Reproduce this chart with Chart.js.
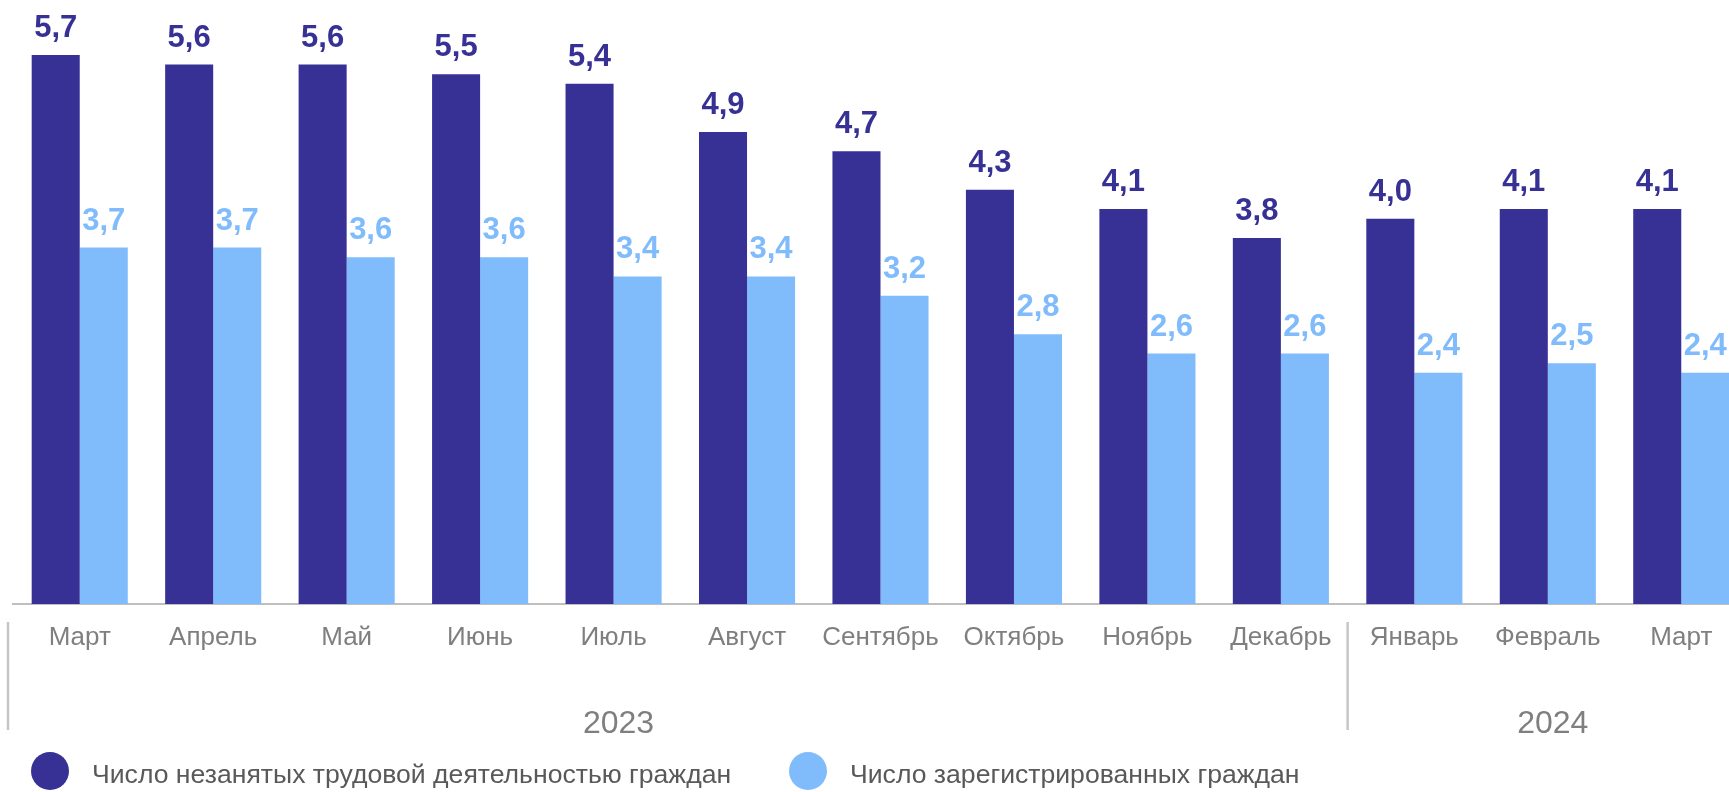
<!DOCTYPE html>
<html lang="ru">
<head>
<meta charset="utf-8">
<title>Безработица</title>
<script src="https://cdn.jsdelivr.net/npm/chart.js@4.4.1/dist/chart.umd.min.js"></script>
<style>
    html, body { margin: 0; padding: 0; background: #fff; overflow: hidden; }
    #wrap { position: relative; width: 1760px; height: 792px; }
    .leyenda { position: absolute; top: 752px; display: flex; align-items: center;
               font-family: "Liberation Sans", Arial, sans-serif; font-size: 26.6px; color: #595959; }
    .leyenda .punto { width: 38px; height: 38px; border-radius: 50%; margin-right: 23px; }
    .leyenda .txt { position: relative; top: 3px; }
</style>
</head>
<body>
<div id="wrap">
    <canvas id="graficoMeses"></canvas>
    <div class="leyenda" style="left:31px"><span class="punto" id="punto0"></span><span class="txt" id="texto0"></span></div>
    <div class="leyenda" style="left:789px"><span class="punto" id="punto1"></span><span class="txt" id="texto1"></span></div>
</div>
<script>
//Datos
    const meses = ['Март', 'Апрель', 'Май', 'Июнь', 'Июль', 'Август', 'Сентябрь', 'Октябрь', 'Ноябрь', 'Декабрь', 'Январь', 'Февраль', 'Март'];
    const nezanyatye = [5.7, 5.6, 5.6, 5.5, 5.4, 4.9, 4.7, 4.3, 4.1, 3.8, 4.0, 4.1, 4.1];
    const zaregistrirovannye = [3.7, 3.7, 3.6, 3.6, 3.4, 3.4, 3.2, 2.8, 2.6, 2.6, 2.4, 2.5, 2.4];
    const nombresSeries = ['Число незанятых трудовой деятельностью граждан', 'Число зарегистрированных граждан'];
    const colores = ['#373195', '#80bbfb'];
    const anios = ['2023', '2024'];
    const anioBajoMes = [4, 11];     // под каким месяцем подпись года
    const separadores = [0, 10];     // год начинается с этого месяца

    const fuente = '"Liberation Sans", Arial, sans-serif';
    let canvas = document.querySelector('#graficoMeses');
    canvas.width = 1760;
    canvas.height = 792;

    //Leyenda html
    nombresSeries.forEach((nombre, i) => {
        document.querySelector('#punto' + i).style.background = colores[i];
        document.querySelector('#texto' + i).textContent = nombre;
    });

    //Etiquetas encima de barras
    const etiquetasBarras = {
        id: 'etiquetasBarras',
        afterDatasetsDraw(chart) {
            const ctx = chart.ctx;
            ctx.save();
            ctx.font = 'bold 31px ' + fuente;
            ctx.textAlign = 'center';
            ctx.textBaseline = 'alphabetic';
            chart.data.datasets.forEach((ds, i) => {
                ctx.fillStyle = colores[i];
                chart.getDatasetMeta(i).data.forEach((bar, j) => {
                    ctx.fillText(ds.data[j].toFixed(1).replace('.', ','), bar.x, bar.y - 18);
                });
            });
            ctx.restore();
        }
    };

    //Separadores y años
    const ejeAnios = {
        id: 'ejeAnios',
        afterDraw(chart) {
            const ctx = chart.ctx;
            const x = chart.scales.x;
            const paso = x.getPixelForTick(1) - x.getPixelForTick(0);
            ctx.save();
            ctx.strokeStyle = '#c6c6c6';
            ctx.lineWidth = 2.5;
            separadores.forEach(idx => {
                let px = x.getPixelForTick(idx) - paso / 2;
                if (idx === 0) px -= 5;
                ctx.beginPath();
                ctx.moveTo(px, 622);
                ctx.lineTo(px, 730);
                ctx.stroke();
            });
            ctx.fillStyle = '#7f7f7f';
            ctx.font = '32px ' + fuente;
            ctx.textAlign = 'center';
            ctx.textBaseline = 'middle';
            anios.forEach((a, i) => {
                ctx.fillText(a, x.getPixelForTick(anioBajoMes[i]) + 5, 724);
            });
            ctx.restore();
        }
    };

    const data = {
        labels: meses,
        datasets: [{
            label: nombresSeries[0],
            data: nezanyatye,
            backgroundColor: colores[0],
        }, {
            label: nombresSeries[1],
            data: zaregistrirovannye,
            backgroundColor: colores[1],
        }]
    };

    const config = {
        type: 'bar',
        data: data,
        options: {
            responsive: false,
            animation: false,
            layout: { padding: { top: 26, left: 13, right: 12, bottom: 0 } },
            datasets: { bar: { categoryPercentage: 0.72, barPercentage: 1 } },
            plugins: {
                legend: { display: false },
                tooltip: { enabled: false }
            },
            scales: {
                x: {
                    grid: { display: false, drawTicks: false },
                    border: { display: true, color: '#bfbfbf', width: 2 },
                    ticks: {
                        color: '#7f7f7f',
                        padding: 18,
                        maxRotation: 0,
                        autoSkip: false,
                        font: { family: fuente, size: 26 }
                    },
                    afterFit(scale) { scale.height = 188; }
                },
                y: {
                    display: false,
                    min: 0,
                    max: 6
                }
            }
        },
        plugins: [etiquetasBarras, ejeAnios]
    };

    new Chart(canvas, config);
</script>
</body>
</html>
